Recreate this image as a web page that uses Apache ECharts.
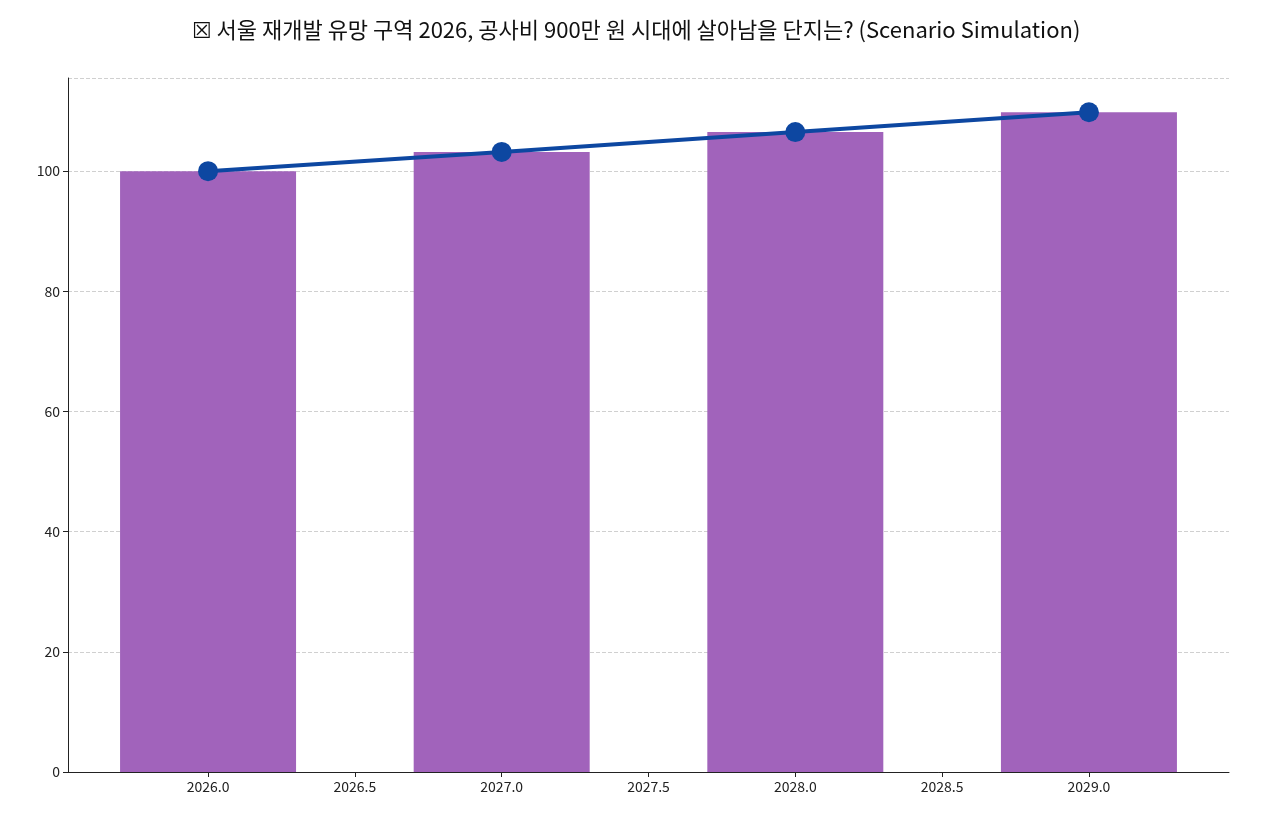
<!DOCTYPE html>
<html><head><meta charset="utf-8">
<script src="https://cdn.jsdelivr.net/npm/echarts@6/dist/echarts.min.js"></script>
<style>html,body{margin:0;padding:0;background:#fff}#c{width:1272px;height:822px}</style>
</head><body><div id="c"></div>
<script>
const years = [2026, 2027, 2028, 2029];
const barValues = [100, 103.2, 106.5, 109.8];
const lineValues = [100, 103.2, 106.5, 109.8];
const xTicks = [2026, 2026.5, 2027, 2027.5, 2028, 2028.5, 2029];
const titleText = '☒ 서울 재개발 유망 구역 2026, 공사비 900만 원 시대에 살아남을 단지는? (Scenario Simulation)';
const chart = echarts.init(document.getElementById('c'));
const font = '"Noto Sans CJK KR","Noto Sans",sans-serif';
chart.setOption({
  animation: false,
  title: {text: titleText, left: 'center', top: 14, textStyle: {fontFamily: font, fontSize: 22, fontWeight: 'normal', color: '#111'}},
  grid: {left: 68, right: 43, top: 78, bottom: 50},
  xAxis: {type: 'value', min: 2025.523, max: 2029.477,
    axisLine: {onZero: false, lineStyle: {color: '#222'}}, splitLine: {show: false},
    axisTick: {show: true, customValues: xTicks, lineStyle: {color: '#222'}},
    axisLabel: {customValues: xTicks, formatter: v => v.toFixed(1), fontFamily: font, fontSize: 14, color: '#222'}},
  yAxis: {type: 'value', min: 0, max: 115.5, interval: 20,
    axisLine: {show: true, lineStyle: {color: '#222'}}, axisTick: {show: true, lineStyle: {color: '#222'}},
    axisLabel: {fontFamily: font, fontSize: 14, color: '#222', showMaxLabel: false},
    splitLine: {lineStyle: {type: 'dashed', color: '#d0d0d0'}}},
  series: [
    {type: 'bar', data: years.map((y, i) => [y, barValues[i]]), barWidth: 176, itemStyle: {color: '#a163bb'}},
    {type: 'line', data: years.map((y, i) => [y, lineValues[i]]), symbol: 'circle', symbolSize: 20,
      lineStyle: {color: '#0d47a1', width: 4}, itemStyle: {color: '#0d47a1'}}
  ]
});
</script></body></html>
